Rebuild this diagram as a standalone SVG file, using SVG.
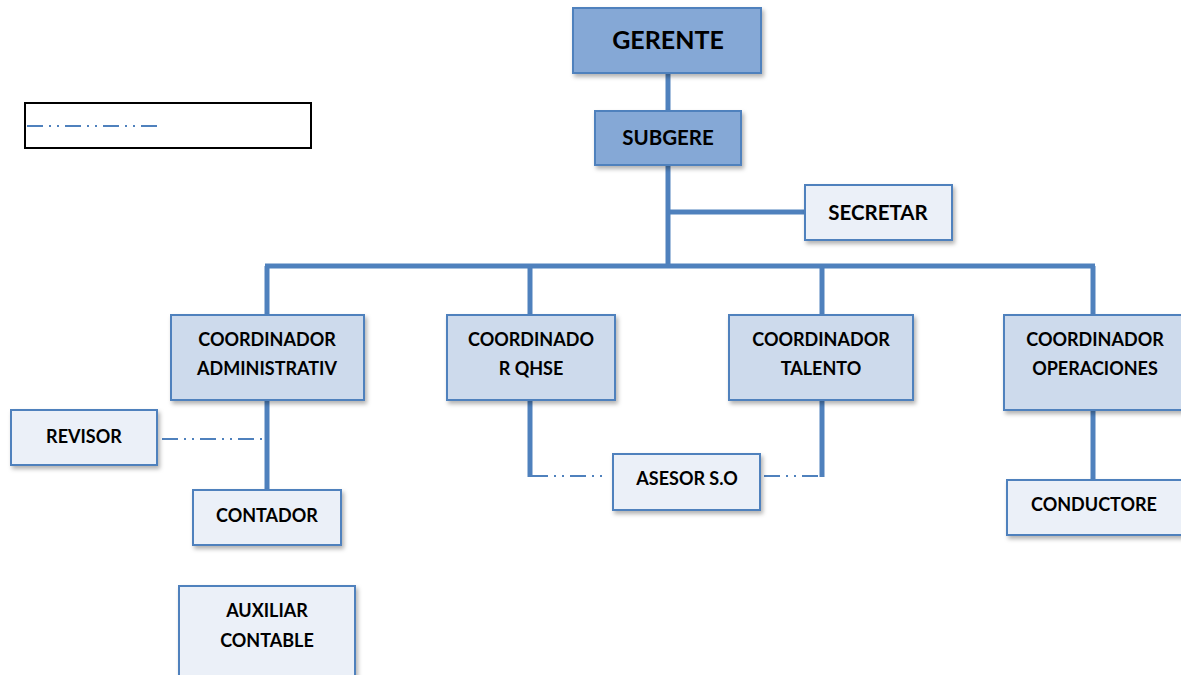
<svg xmlns="http://www.w3.org/2000/svg" width="1181" height="675" viewBox="0 0 1181 675">
<defs>
<filter id="sh" x="-10%" y="-10%" width="130%" height="140%">
<feDropShadow dx="2" dy="3" stdDeviation="2" flood-color="#000" flood-opacity="0.3"/>
</filter>
</defs>
<style>
.box{stroke:#4F81BD;stroke-width:2;filter:url(#sh)}
.dark{fill:#85A8D6}
.mid{fill:#CDDAEC}
.light{fill:#EBF0F8}
.t{font-family:Lato,"Open Sans","Liberation Sans",sans-serif;font-weight:bold;fill:#000;text-anchor:middle;dominant-baseline:central}
.s16{font-size:18px}
.conn{stroke:#4F81BD;stroke-width:5;fill:none}
.dd{stroke:#4F81BD;stroke-width:2;fill:none;stroke-dasharray:16 6 2 6 2 6}
</style>
<rect width="1181" height="675" fill="#fff"/>
<g id="connectors">
<line class="conn" x1="668" y1="73" x2="668" y2="111"/>
<line class="conn" x1="668" y1="165" x2="668" y2="268"/>
<line class="conn" x1="668" y1="212" x2="805" y2="212"/>
<line class="conn" x1="265" y1="266" x2="1095" y2="266"/>
<line class="conn" x1="267" y1="266" x2="267" y2="315"/>
<line class="conn" x1="530" y1="266" x2="530" y2="315"/>
<line class="conn" x1="822" y1="266" x2="822" y2="315"/>
<line class="conn" x1="1093" y1="266" x2="1093" y2="315"/>
<line class="conn" x1="267" y1="400" x2="267" y2="490"/>
<line class="conn" x1="530" y1="400" x2="530" y2="477"/>
<line class="conn" x1="822" y1="400" x2="822" y2="477"/>
<line class="conn" x1="1093" y1="410" x2="1093" y2="480"/>
<path class="dd" d="M162 439 H265"/>
<path class="dd" d="M532 476 H602"/>
<path class="dd" d="M764 476 H820"/>
</g>
<g id="legend">
<rect x="25" y="103" width="286" height="45" fill="#fff" stroke="#000" stroke-width="2"/>
<path class="dd" d="M27 126 H160"/>
</g>
<g id="gerente">
<rect class="box dark" x="573" y="8" width="188" height="65"/>
<text class="t" x="668" y="39" font-size="25">GERENTE</text>
</g>
<g id="subgere">
<rect class="box dark" x="595" y="111" width="146" height="54"/>
<text class="t" x="668" y="137" font-size="20.5">SUBGERE</text>
</g>
<g id="secretar">
<rect class="box light" x="805" y="185" width="147" height="55"/>
<text class="t" x="878" y="212" font-size="20.5">SECRETAR</text>
</g>
<g id="coord-admin">
<rect class="box mid" x="171" y="315" width="193" height="85"/>
<text class="t s16" x="267" y="339" font-size="18.5">COORDINADOR</text>
<text class="t s16" x="267" y="368" font-size="18.5">ADMINISTRATIV</text>
</g>
<g id="coord-qhse">
<rect class="box mid" x="447" y="315" width="168" height="85"/>
<text class="t s16" x="531" y="339" font-size="18.5">COORDINADO</text>
<text class="t s16" x="531" y="368" font-size="18.5">R QHSE</text>
</g>
<g id="coord-talento">
<rect class="box mid" x="729" y="315" width="184" height="85"/>
<text class="t s16" x="821" y="339" font-size="18.5">COORDINADOR</text>
<text class="t s16" x="821" y="368" font-size="18.5">TALENTO</text>
</g>
<g id="coord-operaciones">
<rect class="box mid" x="1004" y="315" width="182" height="95"/>
<text class="t s16" x="1095" y="339" font-size="18.5">COORDINADOR</text>
<text class="t s16" x="1095" y="368" font-size="18.5">OPERACIONES</text>
</g>
<g id="revisor">
<rect class="box light" x="11" y="410" width="146" height="55"/>
<text class="t s16" x="84" y="436">REVISOR</text>
</g>
<g id="contador">
<rect class="box light" x="193" y="490" width="148" height="55"/>
<text class="t s16" x="267" y="515">CONTADOR</text>
</g>
<g id="auxiliar">
<rect class="box light" x="179" y="586" width="176" height="92"/>
<text class="t s16" x="267" y="610">AUXILIAR</text>
<text class="t s16" x="267" y="640">CONTABLE</text>
</g>
<g id="asesor">
<rect class="box light" x="613" y="454" width="147" height="56"/>
<text class="t s16" x="687" y="478" font-size="18.5">ASESOR S.O</text>
</g>
<g id="conductore">
<rect class="box light" x="1007" y="480" width="179" height="55"/>
<text class="t s16" x="1094" y="504">CONDUCTORE</text>
</g>
</svg>
